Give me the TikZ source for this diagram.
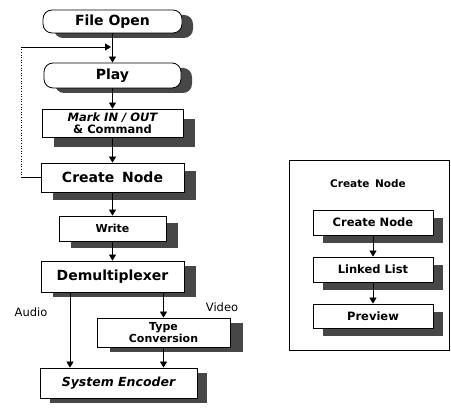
\documentclass[tikz,border=0pt]{standalone}
\usepackage{fontspec}
\newfontfamily\lab{DejaVu Sans}
\usetikzlibrary{shadows,arrows.meta}
\begin{document}
\begin{tikzpicture}[x=1pt,y=-1pt,
  every node/.style={inner sep=0pt, align=center},
  box/.style={draw, line width=0.8pt, fill=white, font=\lab\bfseries\fontsize{11}{11.5}\selectfont},
  big/.style={box, font=\lab\bfseries\fontsize{14}{15}\selectfont},
  shd/.style 2 args={general shadow={fill=black!72, shadow xshift=#1, shadow yshift=#2}},
  rshd/.style={fill=black!72, rounded corners=9pt},
  arr/.style={line width=0.8pt, -{Triangle[width=7pt,length=6pt]}},
  conn/.style={line width=0.8pt},
  lbl/.style={font=\lab\fontsize{11.5}{12}\selectfont}]
\useasboundingbox (0,0) rectangle (451,411);

% shadows of the rounded boxes
\fill[rshd] (54,15) rectangle (193,38);
\fill[rshd] (55,68) rectangle (192,93);

% left column
\node[big, rounded corners=9pt, minimum width=139pt, minimum height=23pt] (fo) at (112.5,21.5) {File Open};
\node[big, rounded corners=9pt, minimum width=137pt, minimum height=25pt] (play) at (112.5,75.5) {Play};
\node[box, font=\lab\bfseries\fontsize{11.5}{12}\selectfont, shd={12pt}{-10pt}, minimum width=141pt, minimum height=28pt] (mark) at (112.5,123) {\itshape Mark IN / OUT\\ \& Command};
\node[big, shd={12pt}{-8pt}, minimum width=143pt, minimum height=29pt] (cn) at (112.5,177.5) {Create\hspace{3pt} Node};
\node[box, shd={12pt}{-7pt}, minimum width=107pt, minimum height=25pt] (wr) at (112.5,228.5) {Write};
\node[big, shd={12pt}{-5pt}, minimum width=143pt, minimum height=31pt] (dm) at (112.5,276.5) {Demultiplexer};
\node[box, shd={13pt}{-5pt}, minimum width=133pt, minimum height=29pt] (tc) at (163.5,332.5) {Type\\Conversion};
\node[big, font=\lab\bfseries\itshape\fontsize{12.5}{13}\selectfont, shd={10pt}{-5pt}, minimum width=157pt, minimum height=30pt] (se) at (118.5,383) {System Encoder};

\draw[arr] (fo.south) -- (play.north);
\draw[arr] (play.south) -- (mark.north);
\draw[arr] (mark.south) -- (cn.north);
\draw[arr] (cn.south) -- (wr.north);
\draw[arr] (wr.south) -- (dm.north);
\draw[arr] ([xshift=-42.5pt]dm.south) -- ([xshift=-48.5pt]se.north);
\draw[arr] ([xshift=51pt]dm.south) -- (tc.north);
\draw[arr] (tc.south) -- ([xshift=45pt]se.north);

% feedback loop
\coordinate (lp) at (21,47);
\coordinate (lj) at (111,47);
\draw[conn] (cn.west) -- (cn.west -| lp);
\draw[line width=0.6pt, dotted] (cn.west -| lp) -- (lp);
\draw[arr] (lp) -- (lj);

\node[lbl] (au) at (31,312) {Audio};
\node[lbl] (vi) at (222,307) {Video};

% right panel
\node[draw, line width=0.8pt, minimum width=160pt, minimum height=190pt] (panel) at (369,255) {};
\node[font=\lab\bfseries\fontsize{10.5}{11}\selectfont] (ttl) at (368,184) {Create\hspace{2pt} Node};
\node[box, font=\lab\bfseries\fontsize{11.5}{12}\selectfont, shd={10pt}{-8pt}, minimum width=120pt, minimum height=25pt] (r1) at (373,222.5) {Create Node};
\node[box, font=\lab\bfseries\fontsize{11.5}{12}\selectfont, shd={10pt}{-8pt}, minimum width=120pt, minimum height=25pt] (r2) at (373,269.5) {Linked List};
\node[box, font=\lab\bfseries\fontsize{11.5}{12}\selectfont, shd={10pt}{-8pt}, minimum width=120pt, minimum height=24pt] (r3) at (373,316) {Preview};
\draw[arr] (r1.south) -- (r2.north);
\draw[arr] (r2.south) -- (r3.north);
\end{tikzpicture}
\end{document}
